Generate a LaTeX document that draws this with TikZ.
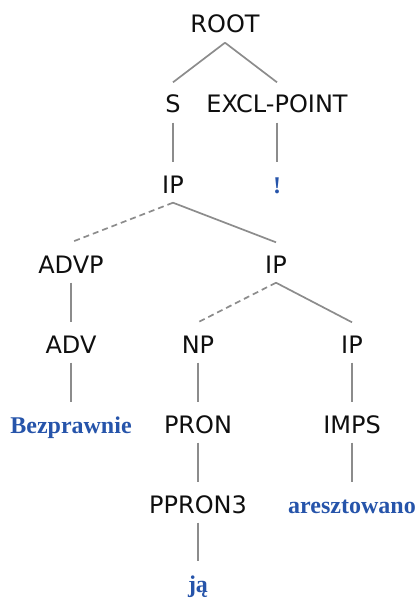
\documentclass[tikz,border=0pt]{standalone}
\usepackage{fontspec}
\setmainfont{DejaVu Sans}
\newfontfamily\leaffont{Liberation Serif}
\usepackage{xcolor}
\usepackage{tikz}
\usetikzlibrary{positioning}
\definecolor{leafblue}{RGB}{38, 84, 170}
\definecolor{edgegray}{RGB}{140, 140, 140}
\definecolor{labelblack}{RGB}{15, 15, 15}

\begin{document}
\begin{tikzpicture}[x=1pt, y=-1pt,
		catnode/.style={anchor=base, text=labelblack, font=\fontsize{24}{28}\selectfont, text height=21pt, text depth=0pt, inner xsep=2pt, inner ysep=9.5pt},
		wordnode/.style={catnode, text=leafblue, font=\leaffont\bfseries\fontsize{24}{28}\selectfont},
		branch/.style={draw=edgegray, line width=1.7pt},
		optbranch/.style={branch, dash pattern=on 6pt off 4pt}]
	\useasboundingbox (0,0) rectangle (416,599);
	% categories
	\node[catnode] (root) at (225,33) {ROOT};
	\node[catnode] (s) at (173,113) {S};
	\node[catnode] (excl) at (277,113) {EXCL-POINT};
	\node[catnode] (ip) at (173,193) {IP};
	\node[catnode] (advp) at (71,273) {ADVP};
	\node[catnode] (ipb) at (276,273) {IP};
	\node[catnode] (adv) at (71,353) {ADV};
	\node[catnode] (np) at (198,353) {NP};
	\node[catnode] (ipc) at (352,353) {IP};
	\node[catnode] (pron) at (198,433) {PRON};
	\node[catnode] (imps) at (352,433) {IMPS};
	\node[catnode] (ppron) at (198,513) {PPRON3};
	% words
	\node[wordnode] (bang) at (277,193) {!};
	\node[wordnode] (bezpr) at (71,433) {Bezprawnie};
	\node[wordnode] (arest) at (352,513) {aresztowano};
	\node[wordnode] (ja) at (198,592) {ją};
	% branches
	\draw[branch] (root.south) -- (s.north);
	\draw[branch] (root.south) -- (excl.north);
	\draw[branch] (s) -- (ip);
	\draw[branch] (excl) -- (bang);
	\draw[optbranch] (ip.south) -- (advp.north);
	\draw[branch] (ip.south) -- (ipb.north);
	\draw[branch] (advp) -- (adv);
	\draw[optbranch] (ipb.south) -- (np.north);
	\draw[branch] (ipb.south) -- (ipc.north);
	\draw[branch] (adv) -- (bezpr);
	\draw[branch] (np) -- (pron);
	\draw[branch] (ipc) -- (imps);
	\draw[branch] (pron) -- (ppron);
	\draw[branch] (imps) -- (arest);
	\draw[branch] (ppron) -- (ja);
\end{tikzpicture}
\end{document}
